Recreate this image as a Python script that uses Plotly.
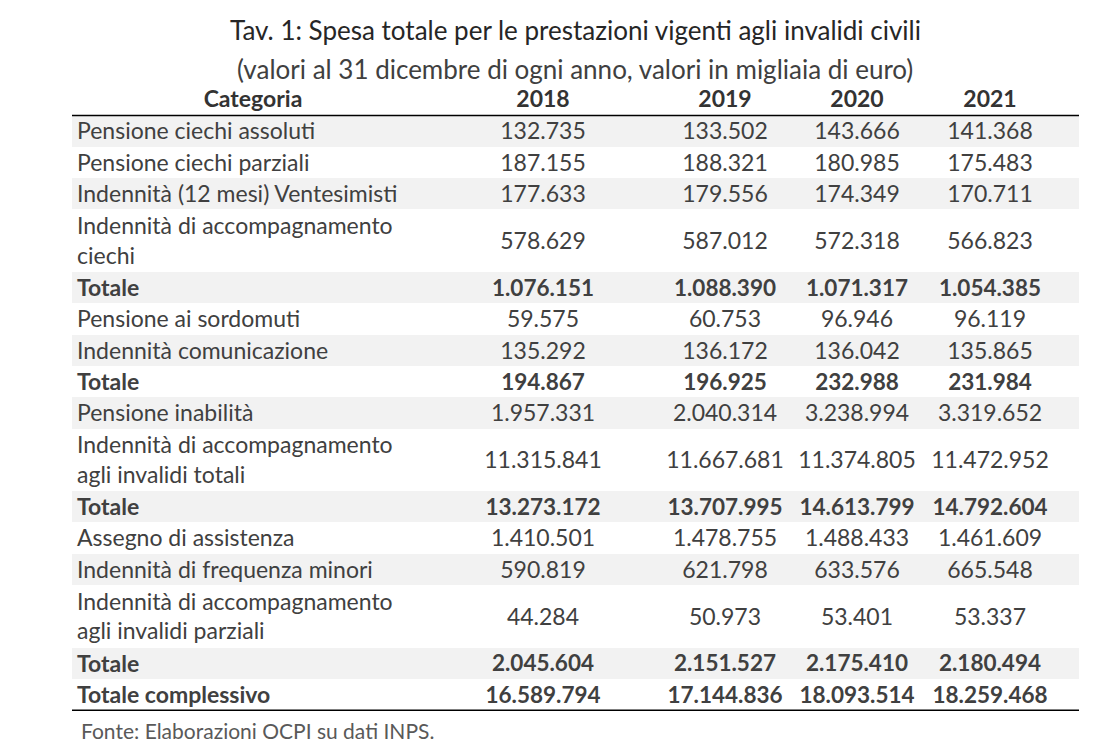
import plotly.graph_objects as go

# ---------------- data ----------------
categories = [
    "Pensione ciechi assoluti",
    "Pensione ciechi parziali",
    "Indennità (12 mesi) Ventesimisti",
    "Indennità di accompagnamento<br>ciechi",
    "Totale",
    "Pensione ai sordomuti",
    "Indennità comunicazione",
    "Totale",
    "Pensione inabilità",
    "Indennità di accompagnamento<br>agli invalidi totali",
    "Totale",
    "Assegno di assistenza",
    "Indennità di frequenza minori",
    "Indennità di accompagnamento<br>agli invalidi parziali",
    "Totale",
    "Totale complessivo",
]
is_total = [0, 0, 0, 0, 1, 0, 0, 1, 0, 0, 1, 0, 0, 0, 1, 1]
years = ["2018", "2019", "2020", "2021"]
v2018 = [132735, 187155, 177633, 578629, 1076151, 59575, 135292, 194867,
         1957331, 11315841, 13273172, 1410501, 590819, 44284, 2045604, 16589794]
v2019 = [133502, 188321, 179556, 587012, 1088390, 60753, 136172, 196925,
         2040314, 11667681, 13707995, 1478755, 621798, 50973, 2151527, 17144836]
v2020 = [143666, 180985, 174349, 572318, 1071317, 96946, 136042, 232988,
         3238994, 11374805, 14613799, 1488433, 633576, 53401, 2175410, 18093514]
v2021 = [141368, 175483, 170711, 566823, 1054385, 96119, 135865, 231984,
         3319652, 11472952, 14792604, 1461609, 665548, 53337, 2180494, 18259468]
values = [v2018, v2019, v2020, v2021]

title = "Tav. 1: Spesa totale per le prestazioni vigenti agli invalidi civili"
subtitle = "(valori al 31 dicembre di ogni anno, valori in migliaia di euro)"
source = "Fonte: Elaborazioni OCPI su dati INPS."

# ---------------- layout / style ----------------
W, H = 1102, 756
PAGE_MARGIN = 8          # default body margin of the html page
FONT = "Lato"
TXT = "#404040"
GRAY = "#f2f2f2"
TABLE_L, TABLE_R = 72, 1079
LABEL_X = 77
COL_X = [543, 725, 857, 990]
HEAD_Y = 99
HEAD_BOTTOM = 115.5
UNIT = 31.3
FS = 23
FS_BOLD_NUM = 22.5
TEXT_DY = 2.5


def fmt(v):
    return f"{v:,}".replace(",", ".")


# compute row geometry from number of text lines
heights, centers = [], []
y = HEAD_BOTTOM
for c in categories:
    h = UNIT * (c.count("<br>") + 1)
    heights.append(h)
    centers.append(y + h / 2)
    y += h
table_bottom = y
fills = [GRAY if i % 2 == 0 else "white" for i in range(len(categories))]
text_y = [c + TEXT_DY for c in centers]

fig = go.Figure()

# row backgrounds
fig.add_trace(go.Bar(
    orientation="h", y=centers, x=[TABLE_R - TABLE_L] * len(categories),
    base=TABLE_L, width=heights, marker=dict(color=fills, line=dict(width=0)),
    hoverinfo="skip", showlegend=False))

# category labels
labels = [f"<b>{c}</b>" if t else c for c, t in zip(categories, is_total)]
fig.add_trace(go.Scatter(
    x=[LABEL_X] * len(categories), y=text_y, mode="text", text=labels,
    textposition="middle right", textfont=dict(family=FONT, size=FS, color=TXT),
    hoverinfo="skip", showlegend=False))

# values
num_sizes = [FS_BOLD_NUM if t else FS for t in is_total]
for xc, vals in zip(COL_X, values):
    txt = [f"<b>{fmt(v)}</b>" if t else fmt(v) for v, t in zip(vals, is_total)]
    fig.add_trace(go.Scatter(
        x=[xc] * len(vals), y=text_y, mode="text", text=txt,
        textposition="middle center",
        textfont=dict(family=FONT, size=num_sizes, color=TXT),
        hoverinfo="skip", showlegend=False))

# header
fig.add_trace(go.Scatter(
    x=[253] + COL_X, y=[HEAD_Y + TEXT_DY] * 5, mode="text",
    text=["<b>Categoria</b>"] + [f"<b>{yy}</b>" for yy in years],
    textposition="middle center", textfont=dict(family=FONT, size=FS, color="#333333"),
    hoverinfo="skip", showlegend=False))

# rules
for yl in (HEAD_BOTTOM, table_bottom):
    fig.add_shape(type="line", x0=TABLE_L, x1=TABLE_R, y0=yl, y1=yl,
                  xref="x", yref="y", line=dict(color="black", width=1.5))

annotations = [
    dict(x=575, y=27 + TEXT_DY, text=title, font=dict(family=FONT, size=26, color="#262626")),
    dict(x=575, y=66 + TEXT_DY, text=subtitle, font=dict(family=FONT, size=26, color=TXT)),
    dict(x=79, y=728 + TEXT_DY, text=source, xanchor="left",
         font=dict(family=FONT, size=21, color="#595959")),
]
for a in annotations:
    a.update(xref="x", yref="y", showarrow=False, yanchor="middle")
    a.setdefault("xanchor", "center")

fig.update_layout(
    width=W - 2 * PAGE_MARGIN, height=H - 2 * PAGE_MARGIN,
    margin=dict(l=0, r=0, t=0, b=0),
    paper_bgcolor="white", plot_bgcolor="white",
    xaxis=dict(range=[PAGE_MARGIN, W - PAGE_MARGIN], visible=False, fixedrange=True),
    yaxis=dict(range=[H - PAGE_MARGIN, PAGE_MARGIN], visible=False, fixedrange=True),
    annotations=annotations, bargap=0,
)

fig.write_html("out.html")
